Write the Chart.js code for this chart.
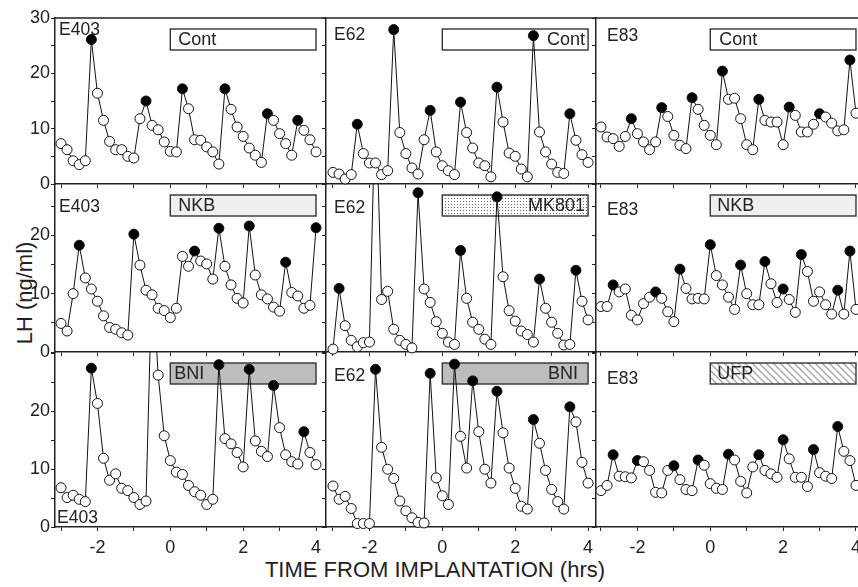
<!DOCTYPE html>
<html>
<head>
<meta charset="utf-8">
<title>LH pulses</title>
<script src="https://cdn.jsdelivr.net/npm/chart.js@4.4.1/dist/chart.umd.min.js"></script>
<style>
  html, body { margin: 0; padding: 0; background: #fff; }
  body { position: relative; width: 858px; height: 587px; overflow: hidden; font-family: "Liberation Sans", Arial, sans-serif; color: #222; }
  .panel { position: absolute; }
  .panel canvas { display: block; }
  .ytitle { position: absolute; left: 25px; top: 293px; transform: translate(-50%, -50%) rotate(-90deg); font-size: 22px; line-height: 1; white-space: nowrap; }
  .xtitle { position: absolute; left: 435px; top: 570px; transform: translate(-50%, -50%); font-size: 22px; line-height: 1; white-space: nowrap; }
</style>
</head>
<body>
<div class="ytitle">LH (ng/ml)</div>
<div class="xtitle">TIME FROM IMPLANTATION (hrs)</div>

<script>
// ---------------------------------------------------------------
// 1. DATA (10-min samples)
// ---------------------------------------------------------------
const minutes = [-180, -170, -160, -150, -140, -130, -120, -110, -100, -90, -80, -70, -60, -50, -40, -30, -20, -10,
  0, 10, 20, 30, 40, 50, 60, 70, 80, 90, 100, 110, 120, 130, 140, 150, 160, 170, 180, 190, 200, 210, 220, 230, 240];

const animals = ['E403', 'E62', 'E83'];
const treatments = [['Cont', 'Cont', 'Cont'], ['NKB', 'MK801', 'NKB'], ['BNI', 'BNI', 'UFP']];
const treatmentHours = [0, 4];

// row 1 : controls
const e403Cont = [7.3, 6.2, 4.2, 3.5, 4.2, 26.1, 16.4, 11.5, 7.7, 6.2, 6.2, 5.0, 4.7, 11.8, 15.0, 10.6, 9.8, 7.6, 5.9, 5.8,
  17.2, 13.6, 8.0, 7.9, 6.7, 5.8, 3.6, 17.2, 13.5, 10.3, 8.6, 6.5, 5.2, 3.9, 12.7, 11.5, 9.1, 7.3, 5.2, 11.5, 9.7, 8.0, 5.8];
const e403ContPeaks = [5, 14, 20, 27, 34, 39];

const e62Cont = [2.1, 1.8, 0.9, 1.7, 10.8, 5.5, 3.8, 3.8, 1.7, 2.4, 27.9, 9.3, 5.5, 2.9, 1.8, 8.0, 13.3, 5.8, 3.3, 2.4,
  1.7, 14.8, 9.3, 6.5, 3.8, 3.3, 1.3, 17.5, 11.2, 5.6, 5.0, 2.7, 1.3, 26.8, 9.4, 5.8, 3.6, 2.1, 1.9, 12.7, 7.9, 5.3, 3.9];
const e62ContPeaks = [4, 10, 16, 21, 27, 33, 39];

const e83Cont = [10.3, 8.5, 8.2, 6.8, 8.6, 11.8, 9.1, 7.6, 6.2, 7.6, 13.8, 12.2, 8.8, 7.0, 6.4, 15.6, 13.5, 10.6, 8.8, 7.1,
  20.4, 15.3, 15.5, 11.8, 7.1, 6.2, 15.3, 11.5, 11.2, 11.2, 7.1, 13.9, 12.4, 9.4, 9.4, 10.8, 12.7, 12.1, 11.0, 9.6, 9.8, 22.4, 12.8];
const e83ContPeaks = [5, 10, 15, 20, 26, 31, 36, 41];

// row 2 : NKB / MK801 / NKB
const e403Nkb = [4.9, 3.6, 10.0, 18.3, 12.7, 10.8, 8.7, 6.2, 4.2, 3.9, 3.3, 2.9, 20.2, 14.9, 10.6, 9.8, 7.5, 7.1, 5.9, 7.5,
  16.4, 14.7, 17.3, 15.6, 15.1, 12.5, 21.2, 14.7, 11.5, 9.2, 8.4, 21.6, 13.2, 9.8, 9.1, 7.7, 7.0, 15.4, 10.2, 9.6, 7.5, 8.0, 21.3];
const e403NkbPeaks = [3, 12, 22, 26, 31, 37, 42];

const e62Mk801 = [0.5, 10.9, 4.5, 2.0, 0.9, 1.6, 1.7, 45, 9.0, 10.4, 3.9, 2.0, 1.3, 0.7, 27.3, 10.8, 8.5, 5.2, 3.2, 1.7,
  1.3, 17.4, 9.2, 5.1, 3.9, 2.2, 1.3, 26.6, 12.9, 7.1, 5.3, 3.6, 3.0, 1.7, 12.5, 7.5, 5.1, 3.2, 1.2, 1.3, 14.0, 8.7, 5.5];
const e62Mk801Peaks = [1, 7, 14, 21, 27, 34, 40];

const e83Nkb = [7.8, 7.8, 11.5, 10.3, 10.8, 6.3, 5.5, 8.3, 9.4, 10.3, 9.2, 6.9, 5.2, 14.2, 10.9, 9.1, 9.2, 9.1, 18.4, 13.1,
  11.5, 9.4, 7.3, 14.9, 10.0, 8.1, 8.1, 15.5, 11.7, 8.5, 10.8, 9.0, 6.8, 16.7, 13.8, 8.7, 10.3, 8.1, 6.5, 10.6, 6.5, 17.3, 7.3];
const e83NkbPeaks = [2, 9, 13, 18, 23, 27, 30, 33, 39, 41];

// row 3 : BNI / BNI / UFP
const e403Bni = [6.8, 5.1, 5.5, 4.8, 4.4, 27.5, 21.4, 11.9, 8.1, 9.2, 6.7, 6.3, 5.1, 3.9, 4.5, 44, 26.3, 15.8, 11.5, 9.5,
  9.1, 7.2, 6.1, 5.5, 3.9, 4.8, 28.1, 15.3, 14.4, 12.9, 10.4, 27.3, 14.9, 13.1, 12.2, 24.5, 17.2, 12.5, 11.3, 10.9, 16.5, 12.9, 10.8];
const e403BniPeaks = [5, 15, 26, 31, 35, 40];

const e62Bni = [7.1, 4.8, 5.3, 3.2, 0.6, 0.6, 0.6, 27.3, 13.8, 10.0, 8.4, 4.5, 2.8, 1.6, 0.8, 0.7, 26.6, 8.5, 5.4, 3.9,
  28.2, 15.7, 10.2, 25.3, 16.5, 10.0, 7.6, 23.5, 16.3, 10.2, 6.7, 3.6, 3.1, 18.6, 14.5, 9.8, 6.5, 4.4, 3.1, 20.8, 18.2, 11.2, 7.6];
const e62BniPeaks = [7, 16, 20, 23, 27, 33, 39];

const e83Ufp = [6.3, 7.2, 12.5, 8.8, 8.7, 8.5, 11.5, 11.3, 9.8, 6.0, 5.9, 9.8, 10.6, 8.2, 6.5, 6.3, 11.6, 10.7, 7.5, 6.7,
  6.5, 12.6, 11.6, 7.9, 5.9, 10.4, 12.5, 9.8, 9.2, 8.6, 15.1, 11.8, 8.6, 8.6, 7.0, 13.4, 9.4, 8.8, 8.4, 17.4, 13.1, 11.5, 7.2];
const e83UfpPeaks = [2, 6, 12, 16, 21, 26, 30, 35, 39];

// ticks
const xTickHours = [-3, -2, -1, 0, 1, 2, 3, 4];
const xTickLabels = ['', '-2', '', '0', '', '2', '', '4'];
const yTickValues = [0, 5, 10, 15, 20, 25, 30];
const yTickLabelsTop = ['0', '', '10', '', '20', '', '30'];
const yTickLabelsLower = ['0', '', '10', '', '20', '', ''];

// ---------------------------------------------------------------
// 2. LAYOUT (pixel boxes of each plot area)
// ---------------------------------------------------------------
const ROWS = [
  { top: 18, bottom: 184, yMax: 30 },
  { top: 184, bottom: 352, yMax: 28.8 },
  { top: 352, bottom: 527, yMax: 30.3 }
];
const COLS = [
  { left: 55, right: 326, xMin: -3.165, xMax: 4.274 },
  { left: 326, right: 595, xMin: -3.192, xMax: 4.19 },
  { left: 596, right: 864, xMin: -3.137, xMax: 4.22 }
];
const PAD_L = 50, PAD_R = 10, PAD_T = 20, PAD_B = 40;

const panels = [
  { row: 0, col: 0, values: e403Cont, peaks: e403ContPeaks, id: [4, 17], tag: ['left', 8] },
  { row: 0, col: 1, values: e62Cont, peaks: e62ContPeaks, id: [8, 22], tag: ['right', 3] },
  { row: 0, col: 2, values: e83Cont, peaks: e83ContPeaks, id: [11, 23], tag: ['left', 9] },
  { row: 1, col: 0, values: e403Nkb, peaks: e403NkbPeaks, id: [4, 28], tag: ['left', 8] },
  { row: 1, col: 1, values: e62Mk801, peaks: e62Mk801Peaks, id: [8, 29], tag: ['right', 3] },
  { row: 1, col: 2, values: e83Nkb, peaks: e83NkbPeaks, id: [11, 31], tag: ['left', 7] },
  { row: 2, col: 0, values: e403Bni, peaks: e403BniPeaks, id: [2, -4], tag: ['left', 4] },
  { row: 2, col: 1, values: e62Bni, peaks: e62BniPeaks, id: [8, 29], tag: ['right', 10] },
  { row: 2, col: 2, values: e83Ufp, peaks: e83UfpPeaks, id: [11, 32], tag: ['left', 7] }
];

// ---------------------------------------------------------------
// 3. FILLS FOR THE TREATMENT BARS
// ---------------------------------------------------------------
function dotTile() {
  const c = document.createElement('canvas');
  c.width = 3; c.height = 3;
  const g = c.getContext('2d');
  g.fillStyle = '#fff'; g.fillRect(0, 0, 3, 3);
  g.fillStyle = '#6a6a6a'; g.fillRect(1, 1, 1, 1);
  return c;
}
function hatchTile() {
  const s = 7;
  const c = document.createElement('canvas');
  c.width = s; c.height = s;
  const g = c.getContext('2d');
  g.fillStyle = '#fff'; g.fillRect(0, 0, s, s);
  g.strokeStyle = '#a8a8a8'; g.lineWidth = 1.4;
  g.beginPath();
  g.moveTo(0, 0); g.lineTo(s, s);
  g.moveTo(-2, s - 2); g.lineTo(2, s + 2);
  g.moveTo(s - 2, -2); g.lineTo(s + 2, 2);
  g.stroke();
  return c;
}
function barFill(ctx, drug) {
  if (drug === 'MK801') return ctx.createPattern(dotTile(), 'repeat');
  if (drug === 'UFP') return ctx.createPattern(hatchTile(), 'repeat');
  if (drug === 'NKB') return '#efefef';
  if (drug === 'BNI') return '#bdbdbd';
  return '#fff';
}

// ---------------------------------------------------------------
// 4. PLUGIN : bar, labels, top frame
// ---------------------------------------------------------------
const decor = {
  id: 'decor',
  beforeDatasetsDraw(chart, args, o) {
    const { ctx, chartArea: a } = chart;
    const x = chart.scales.x;
    const x0 = x.getPixelForValue(treatmentHours[0]);
    const x1 = x.getPixelForValue(treatmentHours[1]);
    const y0 = a.top + 11, h = 21;
    ctx.save();
    ctx.fillStyle = barFill(ctx, o.drug);
    ctx.fillRect(x0, y0, x1 - x0, h);
    ctx.strokeStyle = '#333';
    ctx.lineWidth = 1.4;
    ctx.strokeRect(x0, y0, x1 - x0, h);

    ctx.fillStyle = '#222';
    ctx.font = '18px "Liberation Sans", Arial, sans-serif';
    ctx.textBaseline = 'middle';
    ctx.textAlign = o.tag[0];
    const tx = o.tag[0] === 'left' ? x0 + o.tag[1] : x1 - o.tag[1];
    ctx.fillText(o.drug, tx, y0 + h / 2 + 1);

    ctx.font = '17.5px "Liberation Sans", Arial, sans-serif';
    ctx.textAlign = 'left';
    ctx.textBaseline = 'alphabetic';
    const iy = o.id[1] < 0 ? a.bottom + o.id[1] : a.top + o.id[1];
    ctx.fillText(o.animal, a.left + o.id[0], iy);
    ctx.restore();
  },
  afterDraw(chart, args, o) {
    if (!o.frameTop) return;
    const { ctx, chartArea: a } = chart;
    ctx.save();
    ctx.strokeStyle = '#222';
    ctx.lineWidth = 1.5;
    ctx.beginPath();
    ctx.moveTo(a.left, a.top);
    ctx.lineTo(a.right, a.top);
    ctx.stroke();
    ctx.restore();
  }
};

// ---------------------------------------------------------------
// 5. CHARTS
// ---------------------------------------------------------------
Chart.defaults.font.family = '"Liberation Sans", Arial, sans-serif';
Chart.defaults.color = '#222';

function makePanel(p) {
  const r = ROWS[p.row], c = COLS[p.col];
  const w = c.right - c.left + PAD_L + PAD_R;
  const h = r.bottom - r.top + PAD_T + PAD_B;
  const holder = document.createElement('div');
  holder.className = 'panel';
  holder.style.left = (c.left - PAD_L) + 'px';
  holder.style.top = (r.top - PAD_T) + 'px';
  const cv = document.createElement('canvas');
  cv.width = w; cv.height = h;
  cv.style.width = w + 'px'; cv.style.height = h + 'px';
  holder.appendChild(cv);
  document.body.appendChild(holder);

  const showX = p.row === 2;
  const showY = p.col === 0;
  const yLabels = p.row === 0 ? yTickLabelsTop : yTickLabelsLower;

  new Chart(cv, {
    type: 'line',
    data: {
      datasets: [{
        data: minutes.map((m, i) => ({ x: m / 60, y: p.values[i] })),
        borderColor: '#111',
        borderWidth: 1,
        tension: 0,
        pointRadius: 5,
        pointBorderWidth: 1,
        pointBorderColor: '#111',
        pointBackgroundColor: p.values.map((v, i) => p.peaks.includes(i) ? '#000' : '#fff'),
        clip: { left: 10, right: 10, top: 0, bottom: 10 }
      }]
    },
    options: {
      responsive: false,
      animation: false,
      devicePixelRatio: 1,
      events: [],
      layout: { padding: { left: 0, right: PAD_R, top: PAD_T, bottom: 0 } },
      scales: {
        x: {
          type: 'linear',
          min: c.xMin, max: c.xMax,
          afterBuildTicks: s => { s.ticks = xTickHours.map(v => ({ value: v })); },
          afterFit: s => { s.height = PAD_B; },
          ticks: {
            autoSkip: false, maxRotation: 0, padding: 6,
            font: { size: 18 }, color: '#222',
            callback: v => showX ? xTickLabels[xTickHours.indexOf(v)] : ''
          },
          grid: { drawOnChartArea: false, drawTicks: true, tickLength: 4, color: '#222', lineWidth: 1 },
          border: { display: true, color: '#222', width: 1.5 }
        },
        y: {
          type: 'linear',
          min: 0, max: r.yMax,
          afterBuildTicks: s => { s.ticks = yTickValues.filter(v => v <= r.yMax).map(v => ({ value: v })); },
          afterFit: s => { s.width = PAD_L; },
          ticks: {
            autoSkip: false, padding: 1,
            font: { size: 18 }, color: '#222',
            callback: v => showY ? yLabels[yTickValues.indexOf(v)] : ''
          },
          grid: { drawOnChartArea: false, drawTicks: true, tickLength: 4, color: '#222', lineWidth: 1 },
          border: { display: true, color: '#222', width: 1.5 }
        }
      },
      plugins: {
        legend: { display: false },
        tooltip: { enabled: false },
        decor: {
          drug: treatments[p.row][p.col],
          animal: animals[p.col],
          tag: p.tag,
          id: p.id,
          frameTop: p.row === 0
        }
      }
    },
    plugins: [decor]
  });
}

panels.forEach(makePanel);
</script>
</body>
</html>
